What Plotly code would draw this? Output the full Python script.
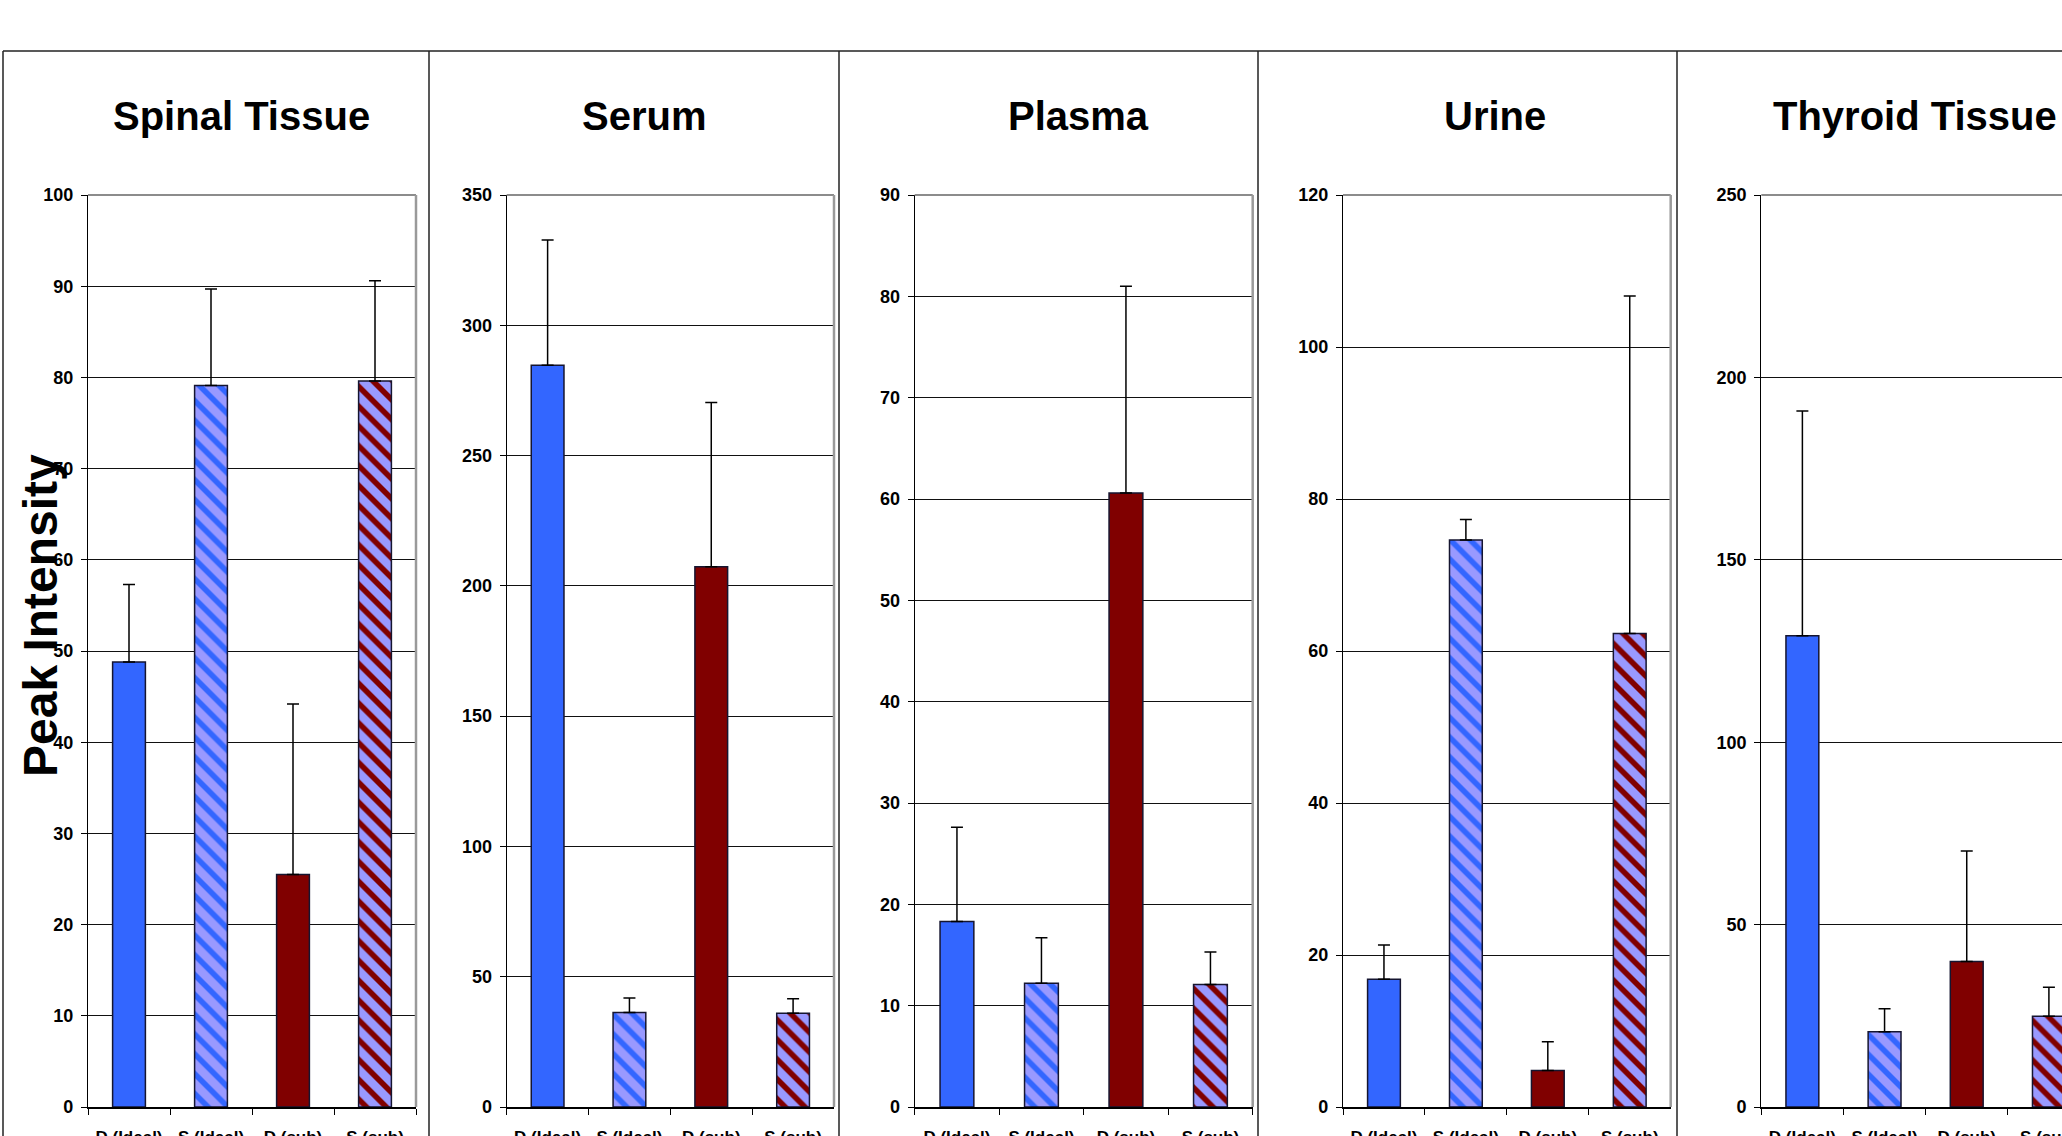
import plotly.graph_objects as go

# ---- data -------------------------------------------------------------
categories = ["D (Ideal)", "S (Ideal)", "D (sub)", "S (sub)"]
panel_titles = ["Spinal Tissue", "Serum", "Plasma", "Urine", "Thyroid Tissue"]

spinal_mean = [48.8, 79.1, 25.5, 79.6]
spinal_err = [8.5, 10.6, 18.7, 11.0]

serum_mean = [284.7, 36.3, 207.3, 36.0]
serum_err = [48.0, 5.5, 63.1, 5.5]

plasma_mean = [18.3, 12.2, 60.6, 12.1]
plasma_err = [9.3, 4.5, 20.4, 3.2]

urine_mean = [16.8, 74.6, 4.8, 62.3]
urine_err = [4.5, 2.7, 3.8, 44.4]

thyroid_mean = [129.2, 20.6, 39.9, 24.9]
thyroid_err = [61.6, 6.3, 30.3, 7.9]

y_max = [100, 350, 90, 120, 250]
y_step = [10, 50, 10, 20, 50]

means = [spinal_mean, serum_mean, plasma_mean, urine_mean, thyroid_mean]
errs = [spinal_err, serum_err, plasma_err, urine_err, thyroid_err]

# ---- styling ----------------------------------------------------------
W, H = 2062, 1136
FONT = "Liberation Sans, Arial, Helvetica, sans-serif"
BLUE = "#3366FF"
MAROON = "#800000"
LILAC = "#9999FF"

bar_colors = [BLUE, LILAC, MAROON, LILAC]
stripe_shapes = ["", "\\", "", "\\"]
stripe_colors = [BLUE, BLUE, MAROON, MAROON]

# plot-area pixel geometry (left axis x, right edge x)
plot_left = [88, 506.7, 914.7, 1343, 1761.3]
plot_right = [416, 834, 1252.7, 1670.7, 2090]
plot_top, plot_zero = 195, 1107
title_x = [241, 644, 1078, 1495, 1915]
panel_edges = [3, 429, 839, 1258, 1677]


def px(x):
    return x / W


def py(y):
    return (H - y) / H


fig = go.Figure()
shapes = []
annotations = []

for i in range(5):
    sfx = "" if i == 0 else str(i + 1)
    xa, ya = "x" + sfx, "y" + sfx
    for j, cat in enumerate(categories):
        pattern = dict(shape=stripe_shapes[j])
        if stripe_shapes[j]:
            pattern = dict(shape=stripe_shapes[j], fgcolor=stripe_colors[j],
                           bgcolor=LILAC, fgopacity=1, size=14,
                           solidity=0.4, fillmode="replace")
        fig.add_trace(go.Bar(
            x=[cat], y=[means[i][j]],
            xaxis=xa, yaxis=ya,
            width=0.4,
            marker=dict(
                color=bar_colors[j],
                line=dict(color="#151530", width=1.5),
                pattern=pattern,
            ),
            error_y=dict(type="data", array=[errs[i][j]], symmetric=False,
                         arrayminus=[0], color="black",
                         thickness=1.5, width=6),
            showlegend=False, hoverinfo="x+y",
        ))

    right = min(plot_right[i], W)
    full_w = plot_right[i] - plot_left[i]
    vis_w = right - plot_left[i]
    x_hi = -0.5 + 4 * vis_w / full_w

    fig.layout["xaxis" + sfx] = dict(
        domain=[px(plot_left[i]), px(right)],
        anchor=ya, range=[-0.5, x_hi], automargin=False,
        type="category", categoryorder="array", categoryarray=categories,
        showline=True, linecolor="black", linewidth=1.5,
        ticks="outside", ticklen=6, tickcolor="black", tickwidth=1.2,
        tickson="boundaries", showgrid=False, zeroline=False,
        ticklabelstandoff=14,
        tickfont=dict(family=FONT, size=17, color="black", weight="bold"),
        fixedrange=True,
    )
    fig.layout["yaxis" + sfx] = dict(
        domain=[py(plot_zero), py(plot_top)],
        anchor=xa, range=[0, y_max[i]], dtick=y_step[i], tick0=0,
        automargin=False,
        showline=True, linecolor="black", linewidth=1.2,
        ticks="outside", ticklen=6, tickcolor="black", tickwidth=1.2,
        showgrid=True, gridcolor="#111111", gridwidth=1, zeroline=False,
        ticklabelstandoff=4,
        tickfont=dict(family=FONT, size=18, color="black", weight="bold"),
        fixedrange=True,
    )

    # grey plot-area frame (top and right)
    shapes.append(dict(type="line", xref="paper", yref="paper",
                       x0=px(plot_left[i]), x1=px(right),
                       y0=py(plot_top), y1=py(plot_top),
                       line=dict(color="#8c8c8c", width=2)))
    if plot_right[i] <= W:
        shapes.append(dict(type="line", xref="paper", yref="paper",
                           x0=px(plot_right[i]), x1=px(plot_right[i]),
                           y0=py(plot_top), y1=py(plot_zero),
                           line=dict(color="#9a9a9a", width=2.5)))

    annotations.append(dict(text="<b>%s</b>" % panel_titles[i],
                            xref="paper", yref="paper",
                            x=px(title_x[i]), y=py(116),
                            xanchor="center", yanchor="middle",
                            showarrow=False,
                            font=dict(family=FONT, size=40, color="black")))

# panel frames
shapes.append(dict(type="line", xref="paper", yref="paper",
                   x0=px(panel_edges[0]), x1=1, y0=py(51), y1=py(51),
                   line=dict(color="#222222", width=1.5)))
for e in panel_edges:
    shapes.append(dict(type="line", xref="paper", yref="paper",
                       x0=px(e), x1=px(e), y0=py(51), y1=0,
                       line=dict(color="#222222", width=1.5)))

# shared y-axis title
annotations.append(dict(text="<b>Peak Intensity</b>", textangle=-90,
                        xref="paper", yref="paper",
                        x=px(41), y=py(616),
                        xanchor="center", yanchor="middle",
                        showarrow=False,
                        font=dict(family=FONT, size=48, color="black")))

fig.update_layout(
    template="none",
    width=W, height=H,
    margin=dict(l=0, r=0, t=0, b=0, autoexpand=False),
    paper_bgcolor="white", plot_bgcolor="white",
    shapes=shapes, annotations=annotations,
    barmode="overlay",
)

fig.write_html("out.html", config={"displayModeBar": False})
